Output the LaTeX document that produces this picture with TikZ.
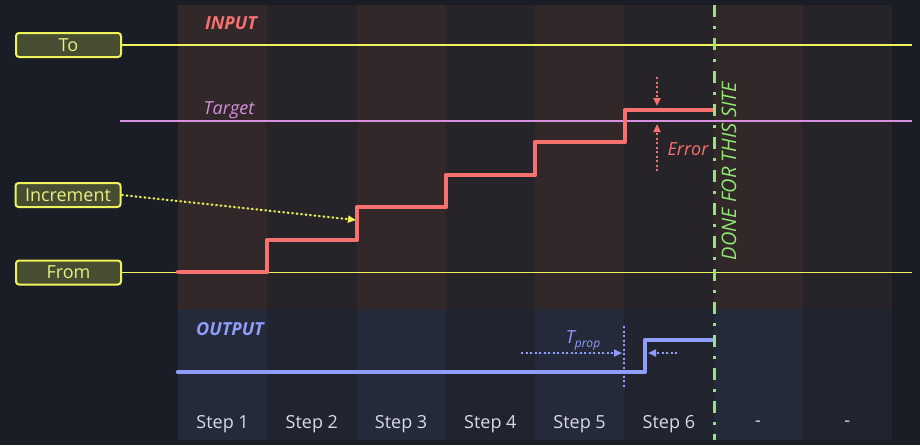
\documentclass[tikz,border=0pt]{standalone}
\usepackage{fontspec}
\setmainfont{Open Sans}
\usepackage{tikz}
\usetikzlibrary{arrows.meta}

\definecolor{bgdark}{HTML}{1A1D25}
\definecolor{inodd}{HTML}{322729}
\definecolor{ineven}{HTML}{262329}
\definecolor{outodd}{HTML}{252A3A}
\definecolor{outeven}{HTML}{21242F}
\definecolor{tagline}{HTML}{EEF35C}
\definecolor{tagfill}{HTML}{474D31}
\definecolor{tagtext}{HTML}{E8EF80}
\definecolor{tgtpink}{HTML}{D790DD}
\definecolor{inred}{HTML}{F87171}
\definecolor{outblue}{HTML}{8F9DFB}
\definecolor{donegreen}{HTML}{90E873}
\definecolor{steptext}{HTML}{D8DBE4}

\tikzset{
  tag/.style={draw=tagline, fill=tagfill, text=tagtext, rounded corners=3pt,
    line width=2pt, minimum width=105pt, minimum height=24pt, inner sep=0pt},
  limit/.style={draw=tagline, line width=2pt},
  target/.style={draw=tgtpink, line width=2pt},
  inp/.style={draw=inred, line width=4.5pt, line cap=round, line join=round},
  outp/.style={draw=outblue, line width=4.5pt, line cap=round, line join=round},
  errarrow/.style={draw=inred, fill=inred, line width=2pt, dash pattern=on 2pt off 2.5pt},
  incarrow/.style={draw=tagline, fill=tagline, line width=2pt, dash pattern=on 2pt off 2.5pt},
  proparrow/.style={draw=outblue, fill=outblue, line width=2pt, dash pattern=on 2pt off 2.5pt},
  done/.style={draw=donegreen, line width=3pt, dash pattern=on 12pt off 9pt on 3pt off 9pt},
  steplabel/.style={text=steptext},
  inlabel/.style={text=inred, font=\fontsize{18}{21}\selectfont\bfseries\itshape},
  outlabel/.style={text=outblue, font=\fontsize{18}{21}\selectfont\bfseries\itshape}
}

\begin{document}
\begin{tikzpicture}[x=1pt,y=-1pt,>={Triangle[length=8pt,width=7pt]},font=\fontsize{18}{21}\selectfont]
  \useasboundingbox[fill=bgdark] (0,0) rectangle (920,445);

  % step columns
  \foreach \i in {0,2,4,6} {
    \fill[inodd] ({178+\i*89.25},5) rectangle ++(89.25,304);
    \fill[outodd] ({178+\i*89.25},309) rectangle ++(89.25,131);
  }
  \foreach \i in {1,3,5,7} {
    \fill[ineven] ({178+\i*89.25},5) rectangle ++(89.25,304);
    \fill[outeven] ({178+\i*89.25},309) rectangle ++(89.25,131);
  }
  \foreach \lbl [count=\n] in {Step 1,Step 2,Step 3,Step 4,Step 5,Step 6,-,-}
    \node[steplabel] (step\n) at ({178+(\n-0.5)*89.25},424) {\lbl};

  % limits and target
  \node[tag] (to)   at (68.5,45)    {To};
  \node[tag] (incr) at (68,195)     {Increment};
  \node[tag] (from) at (68.5,272.5) {From};
  \coordinate (toend)    at (912,45);
  \coordinate (fromend)  at (912,272);
  \coordinate (tgtstart) at (120,121);
  \coordinate (tgtend)   at (912,121);

  \draw[limit] (to.east) -- (to.east -| toend);
  \draw[limit, line width=1.5pt] (from.east) -- (from.east -| fromend);
  \draw[target] (tgtstart) -- (tgtend);
  \node[text=tgtpink, font=\fontsize{18}{21}\selectfont\itshape] (tgt) at (229,110) {Target};

  % input ramp
  \node[inlabel] (input) at (231,23) {INPUT};
  \draw[inp] (178,272) -| (267,240) -| (357,207) -| (446,175) -| (535,142) -| (625,110) -- (713,110);

  \coordinate (incrtip) at (356,220);
  \draw[incarrow,->] (incr.east) -- (incrtip);

  \coordinate (errtop) at (657,77);
  \coordinate (errhi)  at (657,106);
  \coordinate (errlo)  at (657,124);
  \coordinate (errbot) at (657,171);
  \draw[errarrow,->] (errtop) -- (errhi);
  \draw[errarrow,->] (errbot) -- (errlo);
  \node[text=inred, font=\fontsize{18}{21}\selectfont\itshape] (err) at (688,149) {Error};

  % output
  \node[outlabel] (output) at (230,329) {OUTPUT};
  \draw[outp] (178,372) -| (645,340) -- (713,340);

  \coordinate (tpa)   at (624,326);
  \coordinate (tpb)   at (624,388);
  \coordinate (tpin)  at (521,353);
  \coordinate (tpend) at (622,353);
  \coordinate (tpout) at (677,353);
  \coordinate (tpret) at (648,353);
  \draw[proparrow] (tpa) -- (tpb);
  \draw[proparrow,->] (tpin) -- (tpend);
  \draw[proparrow,->] (tpout) -- (tpret);
  \node[text=outblue, font=\fontsize{18}{21}\selectfont\itshape] (tprop) at (583,341)
    {T\raisebox{-4pt}{\fontsize{12}{14}\selectfont prop}};

  % end of this site
  \draw[done] (714,5) -- (714,440);
  \node[text=donegreen, rotate=90, font=\fontsize{20}{22}\selectfont\itshape] (donelbl) at (729,171)
    {DONE FOR THIS SITE};
\end{tikzpicture}
\end{document}
